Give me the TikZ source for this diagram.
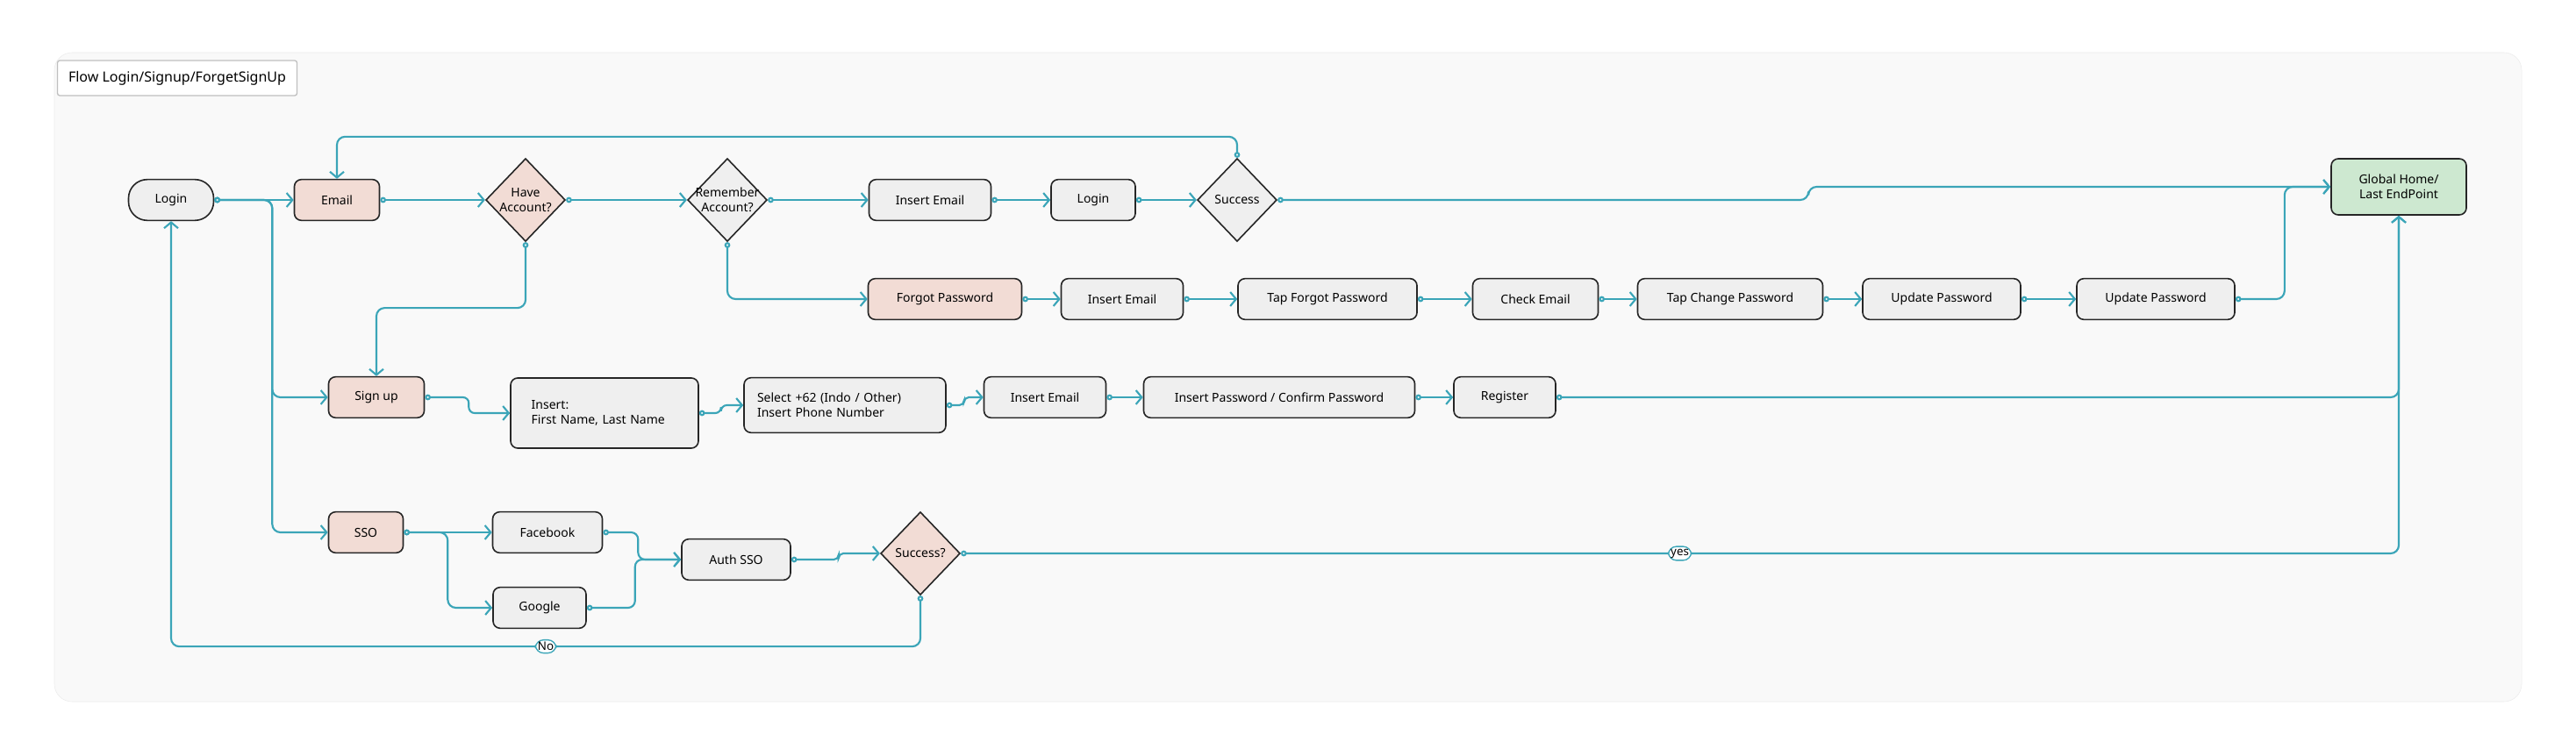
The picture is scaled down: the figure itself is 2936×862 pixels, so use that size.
\documentclass[tikz,border=0pt]{standalone}
\usepackage{fontspec}
\setmainfont{Noto Sans}
\usetikzlibrary{arrows.meta,shapes.geometric,positioning}
\definecolor{flowteal}{HTML}{3BA5B8}
\definecolor{stepgrey}{HTML}{EFEFEF}
\definecolor{steppink}{HTML}{F2DCD5}
\definecolor{stepgreen}{HTML}{CDE8D0}
\definecolor{framegrey}{HTML}{F9F9F9}

\tikzset{
  step/.style={draw=black!85, line width=1.2pt, rounded corners=6pt, fill=stepgrey,
    minimum width=#1*0.75pt, minimum height=35pt, inner sep=2pt,
    font=\fontsize{10.5}{13}\selectfont\bfseries},
  pink/.style={fill=steppink},
  ask/.style={draw=black!85, line width=1.2pt, diamond, fill=stepgrey,
    minimum width=68pt, minimum height=71pt, inner sep=0pt},
  flow/.style={draw=flowteal, line width=1.6pt, rounded corners=7pt,
    {Circle[length=5pt,fill=white]}-{Straight Barb[length=5pt,width=12pt]}},
  lbl/.style={draw=flowteal, fill=white, line width=1pt, inner sep=2pt,
    font=\fontsize{10}{12}\selectfont}
}

\begin{document}
\begin{tikzpicture}[x=0.75pt,y=-0.75pt]
\useasboundingbox (0,0) rectangle (2936,862);
\draw[fill=framegrey, draw=black!8, rounded corners=15pt] (62,60) rectangle (2874,800);
\node[draw=black!25, line width=1pt, rounded corners=2pt, fill=white, minimum width=273*0.75pt,
  minimum height=40*0.75pt, font=\fontsize{12}{14}\selectfont] (title) at (202,89) {Flow Login/Signup/ForgetSignUp};

% first row
\node[step=97, rounded corners=16pt] (login) at (195,228) {Login};
\node[step=97, pink] (email) at (384,228) {Email};
\node[ask, fill=steppink, label={[font=\fontsize{10.5}{13}\selectfont\bfseries, align=center]center:Have\\Account?}] (have) at (599,228) {};
\node[ask, label={[font=\fontsize{10.5}{13}\selectfont\bfseries, align=center]center:Remember\\Account?}] (remember) at (829,228) {};
\node[step=139] (insmail) at (1060,228) {Insert Email};
\node[step=96] (relogin) at (1246,228) {Login};
\node[ask, label={[font=\fontsize{10.5}{13}\selectfont\bfseries]center:Success}] (success) at (1410,228) {};
\node[step=154, fill=stepgreen, minimum height=48pt, align=center] (home) at (2734,213) {Global Home/\\Last EndPoint};

% forgot row
\node[step=175, pink] (forgot) at (1077,341) {Forgot Password};
\node[step=139] (fmail) at (1279,341) {Insert Email};
\node[step=204] (tapforgot) at (1513,341) {Tap Forgot Password};
\node[step=143] (check) at (1750,341) {Check Email};
\node[step=211] (tapchange) at (1972,341) {Tap Change Password};
\node[step=180] (update) at (2213,341) {Update Password};
\node[step=180] (updatetwo) at (2457,341) {Update Password};

% sign up row
\node[step=109, pink] (signup) at (429,453) {Sign up};
\node[step=214, minimum height=60pt, text width=125pt, align=left] (names) at (689,471)
  {Insert:\\First Name, Last Name\\[12pt]};
\node[step=230, minimum height=47pt, text width=150pt, align=left] (phone) at (963,462)
  {Select +62 (Indo / Other)\\Insert Phone Number};
\node[step=139] (smail) at (1191,453) {Insert Email};
\node[step=309] (pass) at (1458,453) {Insert Password / Confirm Password};
\node[step=116] (register) at (1715,453) {Register};

% sso row
\node[step=85, pink] (sso) at (417,607) {SSO};
\node[step=125] (fb) at (624,607) {Facebook};
\node[step=106] (google) at (615,693) {Google};
\node[step=124] (auth) at (839,638) {Auth SSO};
\node[ask, fill=steppink, label={[font=\fontsize{10.5}{13}\selectfont\bfseries]center:Success?}] (ssook) at (1049,631) {};

% connectors
\draw[flow] (login.east) -- (email.west);
\draw[flow] (login.east) -- ++(66,0) |- (signup.west);
\draw[flow] (login.east) -- ++(66,0) |- (sso.west);
\draw[flow] (email.east) -- (have.west);
\draw[flow] (have.east) -- (remember.west);
\draw[flow] (have.south) -- ++(0,75) -| (signup.north);
\draw[flow] (remember.south) |- (forgot.west);
\draw[flow] (remember.east) -- (insmail.west);
\draw[flow] (insmail.east) -- (relogin.west);
\draw[flow] (relogin.east) -- (success.west);
\draw[flow] (success.north) -- ++(0,-24) -| (email.north);
\draw[flow] (success.east) -- ++(605,0) |- (home.west);
\draw[flow] (forgot.east) -- (fmail.west);
\draw[flow] (fmail.east) -- (tapforgot.west);
\draw[flow] (tapforgot.east) -- (check.west);
\draw[flow] (check.east) -- (tapchange.west);
\draw[flow] (tapchange.east) -- (update.west);
\draw[flow] (update.east) -- (updatetwo.west);
\draw[flow] (updatetwo.east) -- ++(56,0) |- (home.west);
\draw[flow, rounded corners=5pt] (signup.east) -- ++(50,0) |- (names.west);
\draw[flow, rounded corners=5pt] (names.east) -- ++(25,0) |- (phone.west);
\draw[flow, rounded corners=4pt] (phone.east) -- ++(20,0) |- (smail.west);
\draw[flow] (smail.east) -- (pass.west);
\draw[flow] (pass.east) -- (register.west);
\draw[flow] (register.east) -| (home.south);
\draw[flow] (sso.east) -- (fb.west);
\draw[flow] (sso.east) -- ++(50,0) |- (google.west);
\draw[flow, rounded corners=6pt] (fb.east) -- ++(40,0) |- (auth.west);
\draw[flow, rounded corners=6pt] (google.east) -- ++(55,0) |- (auth.west);
\draw[flow, rounded corners=4pt] (auth.east) -- ++(54,0) |- (ssook.west);
\draw[flow] (ssook.east) -| node[pos=0.25, lbl] {yes} (home.south);
\draw[flow] (ssook.south) -- ++(0,58) -| node[pos=0.25, lbl] {No} (login.south);
\end{tikzpicture}
\end{document}
